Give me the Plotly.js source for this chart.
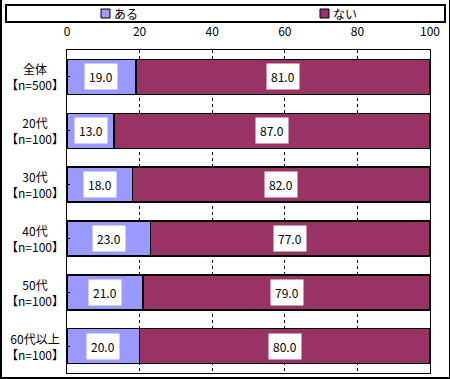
<!DOCTYPE html>
<html><head><meta charset="utf-8">
<script src="https://cdn.plot.ly/plotly-3.0.1.min.js"></script>
<style>body{margin:0;padding:0;background:#fff}#chart{width:450px;height:379px;position:relative}
#frame{position:absolute;left:0;top:0;width:447px;height:377px;border-left:2px solid #000;border-right:2px solid #000;border-bottom:2px solid #000;box-sizing:content-box;pointer-events:none}</style>
</head><body>
<div id="chart"></div>
<script>
const categories = ["全体<br>【n=500】", "20代<br>【n=100】", "30代<br>【n=100】", "40代<br>【n=100】", "50代<br>【n=100】", "60代以上<br>【n=100】"];
const seriesNames = ["ある", "ない"];
const aruValues = [19.0, 13.0, 18.0, 23.0, 21.0, 20.0];
const naiValues = [81.0, 87.0, 82.0, 77.0, 79.0, 80.0];
const xTicks = [0, 20, 40, 60, 80, 100];
const colors = ["#9999FF", "#993366"];

const font = {family: "'Noto Sans CJK JP', 'DejaVu Sans', sans-serif", size: 12, color: "#000"};
const catIdx = categories.map((c, i) => i);

const traces = [aruValues, naiValues].map((vals, k) => ({
  type: "bar", orientation: "h", name: seriesNames[k],
  y: catIdx, x: vals,
  marker: {color: colors[k], line: {color: "#000", width: 1.5}},
  hoverinfo: "none"
}));

const annotations = [];
catIdx.forEach(i => {
  annotations.push({x: aruValues[i] / 2, y: i, xref: "x", yref: "y", text: aruValues[i].toFixed(1),
    showarrow: false, bgcolor: "#fff", borderpad: 4, font: font});
  annotations.push({x: aruValues[i] + naiValues[i] / 2, y: i, xref: "x", yref: "y", text: naiValues[i].toFixed(1),
    showarrow: false, bgcolor: "#fff", borderpad: 4, font: font});
  annotations.push({x: -0.088, y: i, xref: "paper", yref: "y", xanchor: "center", yanchor: "middle",
    text: categories[i], align: "center", showarrow: false, font: font});
});

const shapes = [
  {type: "rect", xref: "paper", yref: "paper", x0: (6 - 67) / 363, x1: (445 - 67) / 363,
   y0: (373 - 22) / 323, y1: (373 - 5) / 323, line: {color: "#000", width: 2}, fillcolor: "rgba(0,0,0,0)"}
];
seriesNames.forEach((n, k) => {
  const px = k === 0 ? 101 : 320;
  shapes.push({type: "rect", xref: "paper", yref: "paper", x0: (px - 67) / 363, x1: (px + 9 - 67) / 363,
    y0: (373 - 18) / 323, y1: (373 - 9) / 323, fillcolor: colors[k], line: {color: "#000", width: 1}});
  annotations.push({x: (px + 11 - 67) / 363, y: (373 - 13.5) / 323, xref: "paper", yref: "paper",
    xanchor: "left", yanchor: "middle", text: n, showarrow: false, font: font});
});

const layout = {
  width: 450, height: 379,
  margin: {l: 67, r: 20, t: 50, b: 6},
  barmode: "stack", bargap: 0.35,
  showlegend: false,
  paper_bgcolor: "#fff", plot_bgcolor: "#fff",
  font: font,
  xaxis: {side: "top", range: [0, 100], tickvals: xTicks, ticktext: xTicks.map(String),
    showgrid: true, gridcolor: "#000", gridwidth: 1, griddash: "3px,3px",
    showline: true, mirror: true, linecolor: "#000", linewidth: 1,
    ticks: "", ticklabelstandoff: 8, zeroline: false, fixedrange: true},
  yaxis: {range: [5.5, -0.5], tickvals: catIdx, showticklabels: false,
    ticks: "inside", tickson: "boundaries", ticklen: 3, tickcolor: "#000",
    showgrid: false, showline: true, mirror: true, linecolor: "#000", linewidth: 1, zeroline: false, fixedrange: true},
  annotations: annotations,
  shapes: shapes
};

Plotly.newPlot("chart", traces, layout, {displayModeBar: false, staticPlot: true}).then(() => {
  const f = document.createElement("div"); f.id = "frame";
  document.getElementById("chart").appendChild(f);
});
</script>
</body></html>
